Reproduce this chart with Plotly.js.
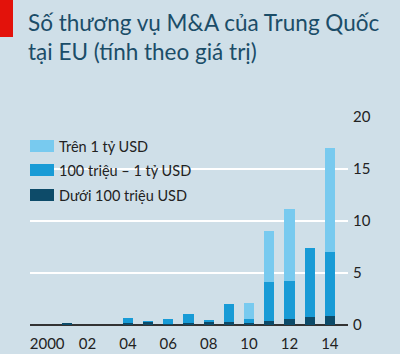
<!DOCTYPE html>
<html><head><meta charset="utf-8">
<script src="https://cdn.plot.ly/plotly-3.0.1.min.js"></script>
<style>html,body{margin:0;padding:0;background:#cfdfe8;}</style>
</head><body>
<div id="chart" style="width:400px;height:354px;"></div>
<script>
const years = [2000,2001,2002,2003,2004,2005,2006,2007,2008,2009,2010,2011,2012,2013,2014];
const under100m = [0,0.2,0,0,0.15,0.3,0.12,0.2,0.25,0.3,0.2,0.4,0.6,0.8,0.9];
const m100to1b = [0,0,0,0,0.55,0.1,0.43,0.9,0.25,1.7,0.4,3.7,3.6,6.6,6.1];
const over1b = [0,0,0,0,0,0,0,0,0,0,1.5,4.9,7.0,0,10.0];
const seriesNames = ['Dưới 100 triệu USD','100 triệu – 1 tỷ USD','Trên 1 tỷ USD'];
const tickVals = [2000,2002,2004,2006,2008,2010,2012,2014];
const tickText = ['2000','02','04','06','08','10','12','14'];
const yTicks = [0,5,10,15,20];

const colors = ['#0d4b69','#189bd6','#78caef'];
const FONT = 'Lato, "Noto Sans", sans-serif';

const W=400,H=354,L=30,R=52,T=117,B=29;
const pw=W-L-R, ph=H-T-B;
const px=x=>(x-L)/pw, py=y=>(H-B-y)/ph;

const traces=[under100m,m100to1b,over1b].map((v,i)=>({
  type:'bar', x:years, y:v, name:seriesNames[i], marker:{color:colors[i]},
  width:0.5, showlegend:false, hoverinfo:'skip'
}));

// manual legend (top item first)
const legendRows=[{i:2,y:146},{i:1,y:170},{i:0,y:195}];
const shapes=[
  {type:'rect',xref:'paper',yref:'paper',x0:px(0),x1:px(13),y0:py(37),y1:py(0),fillcolor:'#e3120b',line:{width:0}}
];
const annotations=[
  {xref:'paper',yref:'paper',x:px(26),y:py(37),xanchor:'left',yanchor:'middle',align:'left',showarrow:false,
   text:'Số thương vụ M&A của Trung Quốc<br>tại EU (tính theo giá trị)',font:{family:FONT,size:22.5,color:'#1b4d68'}}
];
legendRows.forEach(r=>{
  shapes.push({type:'rect',xref:'paper',yref:'paper',x0:px(30),x1:px(54),y0:py(r.y+6),y1:py(r.y-6),fillcolor:colors[r.i],line:{width:0}});
  annotations.push({xref:'paper',yref:'paper',x:px(57),y:py(r.y),xanchor:'left',yanchor:'middle',showarrow:false,
    text:seriesNames[r.i],font:{family:FONT,size:14.5,color:'#222'}});
});

const layout={
  width:W,height:H,margin:{l:L,r:R,t:T,b:B,pad:0},
  paper_bgcolor:'#cfdfe8',plot_bgcolor:'#cfdfe8',
  barmode:'stack',showlegend:false,
  font:{family:FONT,color:'#222'},
  xaxis:{range:[1999.15,2014.9],tickvals:tickVals,ticktext:tickText,showgrid:false,zeroline:false,
    showline:false,ticks:'',ticklabelstandoff:8,tickfont:{size:15,color:'#222'},fixedrange:true},
  yaxis:{range:[0,20],side:'right',tickvals:yTicks,showgrid:true,gridcolor:'#ffffff',gridwidth:2,
    zeroline:true,zerolinecolor:'#333',zerolinewidth:1.5,ticks:'',ticklabelstandoff:4,
    tickfont:{size:15,color:'#222'},fixedrange:true},
  shapes:shapes,annotations:annotations
};
Plotly.newPlot('chart',traces,layout,{displayModeBar:false,staticPlot:true});
</script>
</body></html>
